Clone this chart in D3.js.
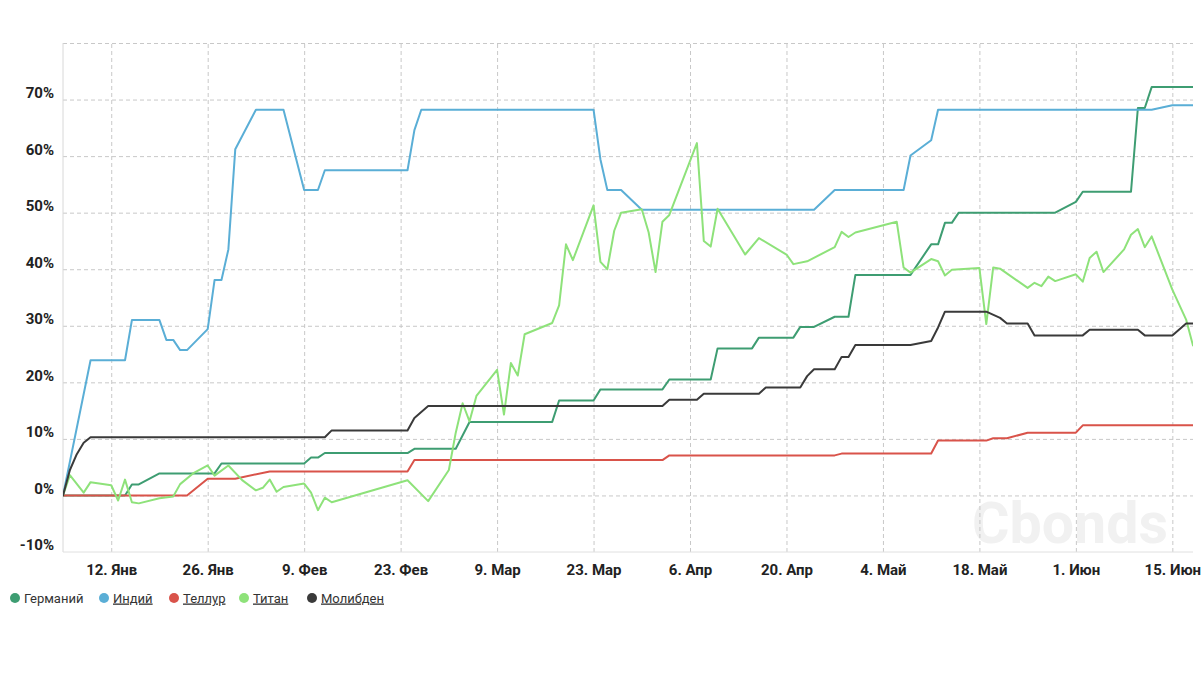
<!DOCTYPE html>
<html>
<head>
<meta charset="utf-8">
<script src="https://cdn.jsdelivr.net/npm/d3@7"></script>
<style>
	body { margin: 0; background: #fff; font-family: Roboto, "Noto Sans", sans-serif; }
</style>
</head>
<body>
<div class="chart"></div>
<script>
var margin = {top: 43, right: 10, bottom: 121, left: 63}

var width = 1203 - margin.left - margin.right;
var height = 673 - margin.top - margin.bottom;

// data: [date, %]
var germanium = [
	['2026-01-05', 0], ['2026-01-14', 0], ['2026-01-15', 1.95], ['2026-01-16', 1.95],
	['2026-01-19', 3.9], ['2026-01-27', 3.9], ['2026-01-28', 5.65], ['2026-02-09', 5.65],
	['2026-02-10', 6.7], ['2026-02-11', 6.7], ['2026-02-12', 7.5], ['2026-02-24', 7.5],
	['2026-02-25', 8.25], ['2026-03-03', 8.25], ['2026-03-05', 13.0], ['2026-03-17', 13.0],
	['2026-03-18', 16.8], ['2026-03-23', 16.8], ['2026-03-24', 18.75], ['2026-04-02', 18.75],
	['2026-04-03', 20.5], ['2026-04-09', 20.5], ['2026-04-10', 26.0], ['2026-04-15', 26.0],
	['2026-04-16', 27.9], ['2026-04-21', 27.9], ['2026-04-22', 29.8], ['2026-04-24', 29.8],
	['2026-04-27', 31.6], ['2026-04-29', 31.6], ['2026-04-30', 39.0], ['2026-05-08', 39.0],
	['2026-05-11', 44.4], ['2026-05-12', 44.4], ['2026-05-13', 48.2], ['2026-05-14', 48.2],
	['2026-05-15', 50.0], ['2026-05-29', 50.0], ['2026-06-01', 51.9], ['2026-06-02', 53.7],
	['2026-06-09', 53.7], ['2026-06-10', 68.5], ['2026-06-11', 68.5], ['2026-06-12', 72.2],
	['2026-06-18', 72.2]
];

var indium = [
	['2026-01-05', 0], ['2026-01-09', 23.9], ['2026-01-14', 23.9], ['2026-01-15', 31.0],
	['2026-01-19', 31.0], ['2026-01-20', 27.5], ['2026-01-21', 27.5], ['2026-01-22', 25.7],
	['2026-01-23', 25.7], ['2026-01-26', 29.4], ['2026-01-27', 38.1], ['2026-01-28', 38.1],
	['2026-01-29', 43.5], ['2026-01-30', 61.2], ['2026-02-02', 68.2], ['2026-02-06', 68.2],
	['2026-02-09', 54.0], ['2026-02-11', 54.0], ['2026-02-12', 57.5], ['2026-02-24', 57.5],
	['2026-02-25', 64.6], ['2026-02-26', 68.2], ['2026-03-23', 68.2], ['2026-03-24', 59.4],
	['2026-03-25', 54.0], ['2026-03-27', 54.0], ['2026-03-30', 50.5], ['2026-04-24', 50.5],
	['2026-04-27', 54.0], ['2026-05-07', 54.0], ['2026-05-08', 60.1], ['2026-05-11', 62.8],
	['2026-05-12', 68.2], ['2026-06-12', 68.2], ['2026-06-15', 69.0], ['2026-06-18', 69.0]
];

var tellur = [
	['2026-01-05', 0], ['2026-01-23', 0], ['2026-01-26', 2.95], ['2026-01-30', 2.95],
	['2026-02-04', 4.25], ['2026-02-24', 4.25], ['2026-02-25', 6.25], ['2026-04-02', 6.25],
	['2026-04-03', 7.08], ['2026-04-27', 7.08], ['2026-04-28', 7.4], ['2026-05-11', 7.4],
	['2026-05-12', 9.7], ['2026-05-19', 9.7], ['2026-05-20', 10.1], ['2026-05-22', 10.1],
	['2026-05-25', 11.1], ['2026-06-01', 11.1], ['2026-06-02', 12.4], ['2026-06-18', 12.4]
];

var titan = [
	['2026-01-05', 0], ['2026-01-06', 3.6], ['2026-01-08', 0.5], ['2026-01-09', 2.35],
	['2026-01-12', 1.8], ['2026-01-13', -0.9], ['2026-01-14', 2.8], ['2026-01-15', -1.2],
	['2026-01-16', -1.4], ['2026-01-19', -0.5], ['2026-01-21', -0.2], ['2026-01-22', 2.0],
	['2026-01-24', 4.0], ['2026-01-26', 5.3], ['2026-01-27', 3.5], ['2026-01-29', 5.3],
	['2026-01-31', 2.7], ['2026-02-02', 0.9], ['2026-02-03', 1.35], ['2026-02-04', 2.8],
	['2026-02-05', 0.65], ['2026-02-06', 1.5], ['2026-02-09', 2.1], ['2026-02-10', 0.5],
	['2026-02-11', -2.6], ['2026-02-12', -0.4], ['2026-02-13', -1.2], ['2026-02-24', 2.7],
	['2026-02-27', -1.0], ['2026-03-02', 4.5], ['2026-03-03', 11.1], ['2026-03-04', 16.3],
	['2026-03-05', 13.1], ['2026-03-06', 17.6], ['2026-03-09', 22.2], ['2026-03-10', 14.3],
	['2026-03-11', 23.4], ['2026-03-12', 21.2], ['2026-03-13', 28.5], ['2026-03-17', 30.5],
	['2026-03-18', 33.6], ['2026-03-19', 44.4], ['2026-03-20', 41.6], ['2026-03-23', 51.3],
	['2026-03-24', 41.3], ['2026-03-25', 40.0], ['2026-03-26', 46.8], ['2026-03-27', 50.0],
	['2026-03-30', 50.6], ['2026-03-31', 46.5], ['2026-04-01', 39.5], ['2026-04-02', 48.4],
	['2026-04-03', 49.6], ['2026-04-07', 62.3], ['2026-04-08', 45.0], ['2026-04-09', 44.0],
	['2026-04-10', 50.7], ['2026-04-14', 42.6], ['2026-04-16', 45.5], ['2026-04-20', 42.6],
	['2026-04-21', 40.9], ['2026-04-23', 41.4], ['2026-04-27', 43.9], ['2026-04-28', 46.6],
	['2026-04-29', 45.7], ['2026-04-30', 46.5], ['2026-05-06', 48.4], ['2026-05-07', 40.3],
	['2026-05-08', 39.4], ['2026-05-11', 41.8], ['2026-05-12', 41.4], ['2026-05-13', 38.9],
	['2026-05-14', 39.9], ['2026-05-18', 40.2], ['2026-05-19', 30.3], ['2026-05-20', 40.3],
	['2026-05-21', 40.1], ['2026-05-25', 36.7], ['2026-05-26', 37.6], ['2026-05-27', 37.0],
	['2026-05-28', 38.7], ['2026-05-29', 37.9], ['2026-06-01', 39.1], ['2026-06-02', 37.8],
	['2026-06-03', 42.0], ['2026-06-04', 43.1], ['2026-06-05', 39.5], ['2026-06-08', 43.5],
	['2026-06-09', 46.1], ['2026-06-10', 47.1], ['2026-06-11', 43.9], ['2026-06-12', 45.8],
	['2026-06-15', 36.4], ['2026-06-17', 31.1], ['2026-06-18', 26.5]
];

var molibden = [
	['2026-01-05', 0], ['2026-01-06', 4.5], ['2026-01-07', 7.3], ['2026-01-08', 9.3],
	['2026-01-09', 10.3], ['2026-02-12', 10.3], ['2026-02-13', 11.5], ['2026-02-24', 11.5],
	['2026-02-25', 13.7], ['2026-02-27', 15.8], ['2026-04-02', 15.8], ['2026-04-03', 16.9],
	['2026-04-07', 16.9], ['2026-04-08', 18.0], ['2026-04-16', 18.0], ['2026-04-17', 19.1],
	['2026-04-22', 19.1], ['2026-04-23', 21.1], ['2026-04-24', 22.3], ['2026-04-27', 22.3],
	['2026-04-28', 24.5], ['2026-04-29', 24.5], ['2026-04-30', 26.6], ['2026-05-08', 26.6],
	['2026-05-11', 27.3], ['2026-05-12', 29.7], ['2026-05-13', 32.5], ['2026-05-19', 32.5],
	['2026-05-21', 31.4], ['2026-05-22', 30.4], ['2026-05-25', 30.4], ['2026-05-26', 28.3],
	['2026-06-02', 28.3], ['2026-06-03', 29.3], ['2026-06-10', 29.3], ['2026-06-11', 28.3],
	['2026-06-15', 28.3], ['2026-06-17', 30.4], ['2026-06-18', 30.4]
];

var seriesNames = ['Германий', 'Индий', 'Теллур', 'Титан', 'Молибден'];
var seriesColors = ['#3e9d72', '#5aaed6', '#d9534a', '#8ee27a', '#3a3a3a'];
var seriesData = [germanium, indium, tellur, titan, molibden];

var xTickDates = ['2026-01-12', '2026-01-26', '2026-02-09', '2026-02-23', '2026-03-09', '2026-03-23',
	'2026-04-06', '2026-04-20', '2026-05-04', '2026-05-18', '2026-06-01', '2026-06-15'];
var xTickLabels = ['12. Янв', '26. Янв', '9. Фев', '23. Фев', '9. Мар', '23. Мар',
	'6. Апр', '20. Апр', '4. Май', '18. Май', '1. Июн', '15. Июн'];
var yTicks = [-10, 0, 10, 20, 30, 40, 50, 60, 70];
var yGrid = [0, 10, 20, 30, 40, 50, 60, 70, 80];

var parse = d3.utcParse('%Y-%m-%d');

var svg = d3.select('.chart')
	.append('svg')
		.attr('width', width + margin.left + margin.right)
		.attr('height', height + margin.top + margin.bottom)
	.append('g')
		.attr('transform', `translate(${margin.left}, ${margin.top})`)

var xScale = d3.scaleUtc()
	.domain([parse('2026-01-05'), parse('2026-06-18')])
	.range([0, width]);

var yScale = d3.scaleLinear()
	.domain([-10, 80])
	.range([height, 0]);

// watermark
svg.append('text')
	.attr('x', 909)
	.attr('y', 500)
	.attr('textLength', 196)
	.attr('lengthAdjust', 'spacingAndGlyphs')
	.style('font-size', '58px')
	.style('font-weight', 'bold')
	.style('fill', '#f1f1f1')
	.text('Cbonds');

// grid
var xGrid = svg.append('g')
	.attr('transform', `translate(0, ${height})`)
	.call(d3.axisBottom(xScale).tickValues(xTickDates.map(parse)).tickSize(-height).tickFormat(''));
xGrid.select('.domain').remove();
xGrid.selectAll('line').style('stroke', '#c8c8c8').style('stroke-dasharray', '4,3');

var yGridG = svg.append('g')
	.call(d3.axisLeft(yScale).tickValues(yGrid).tickSize(-width).tickFormat(''));
yGridG.select('.domain').remove();
yGridG.selectAll('line').style('stroke', '#c8c8c8').style('stroke-dasharray', '4,3');

// axis lines
svg.append('line')
	.attr('x1', 0).attr('x2', 0).attr('y1', 0).attr('y2', height)
	.style('stroke', '#d8d8d8');
svg.append('line')
	.attr('x1', 0).attr('x2', width).attr('y1', height).attr('y2', height)
	.style('stroke', '#e0e0e0');

// axis labels
var yAxis = d3.axisLeft(yScale).tickValues(yTicks).tickSize(0).tickPadding(9).tickFormat(d => d + '%');
var yAxisG = svg.append('g').call(yAxis);
yAxisG.select('.domain').remove();
yAxisG.selectAll('text')
	.attr('dy', '-0.14em')
	.style('font-family', 'Roboto')
	.style('font-size', '15px')
	.style('font-weight', 'bold')
	.style('fill', '#222');

var xAxis = d3.axisBottom(xScale)
	.tickValues(xTickDates.map(parse))
	.tickSize(0)
	.tickPadding(12)
	.tickFormat((d, i) => xTickLabels[i]);
var xAxisG = svg.append('g')
	.attr('transform', `translate(0, ${height})`)
	.call(xAxis);
xAxisG.select('.domain').remove();
xAxisG.selectAll('text')
	.style('font-family', 'Roboto')
	.style('font-size', '15px')
	.style('font-weight', 'bold')
	.style('fill', '#222');

// lines
svg.append('clipPath')
	.attr('id', 'plot-clip')
	.append('rect')
		.attr('width', width)
		.attr('height', height);

var line = d3.line()
	.x(d => xScale(parse(d[0])))
	.y(d => yScale(d[1]));

svg.append('g')
	.attr('clip-path', 'url(#plot-clip)')
	.selectAll('path')
	.data(seriesData)
	.enter()
	.append('path')
		.attr('d', line)
		.style('fill', 'none')
		.style('stroke', (d, i) => seriesColors[i])
		.style('stroke-width', 2)
		.style('stroke-linejoin', 'round')
		.style('stroke-linecap', 'round');

// legend
var legendX = [15, 104, 174, 244, 312];
var legend = svg.append('g')
	.attr('transform', `translate(${-margin.left}, ${598 - margin.top})`);

var item = legend.selectAll('g')
	.data(seriesNames)
	.enter()
	.append('g')
		.attr('transform', (d, i) => `translate(${legendX[i]}, 0)`);

item.append('circle')
	.attr('r', 5)
	.style('fill', (d, i) => seriesColors[i]);

item.append('text')
	.attr('x', 9)
	.attr('y', 4.5)
	.style('font-family', 'Roboto')
	.style('font-size', '13px')
	.style('fill', '#333')
	.style('text-decoration', (d, i) => i == 0 ? 'none' : 'underline')
	.text(d => d);
</script>
</body>
</html>
